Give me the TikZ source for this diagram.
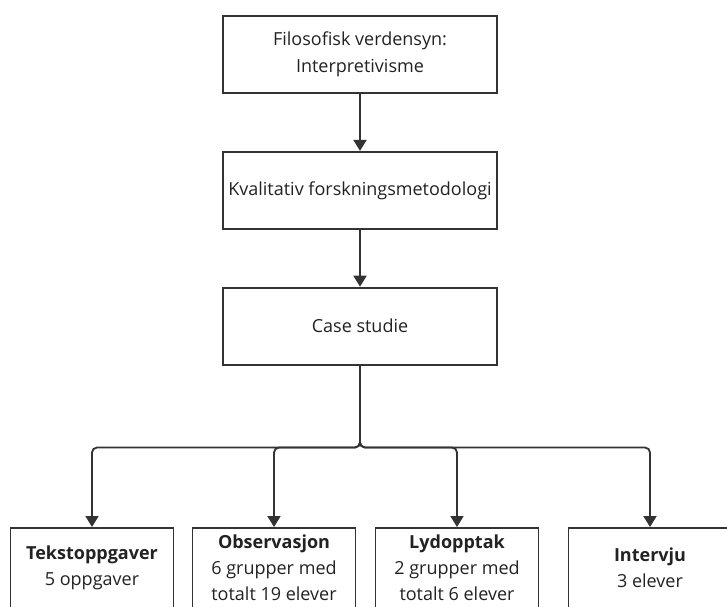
\documentclass[tikz,border=0pt]{standalone}
\usepackage{fontspec}
\setmainfont{Open Sans}
\usepackage{xcolor}
\usetikzlibrary{arrows.meta,positioning}
\definecolor{flowdark}{RGB}{51,51,51}
\definecolor{flowtext}{RGB}{34,34,34}

\begin{document}
\begin{tikzpicture}[
  x=1pt, y=1pt,
  node distance=57pt,
  stage/.style={rectangle, draw=flowdark, line width=1.8pt, fill=white,
                minimum width=274pt, minimum height=77pt, align=center,
                inner sep=2pt, text=flowtext,
                font=\fontsize{18}{27}\selectfont},
  leaf/.style={rectangle, draw=flowdark, line width=1.8pt, fill=white,
               minimum width=163pt, minimum height=80pt, align=center,
               inner sep=2pt, text=flowtext, anchor=north,
               font=\fontsize{18}{26}\selectfont},
  arr/.style={-{Triangle[length=11pt, width=13pt]}, line width=1.8pt, flowdark},
  branch/.style={arr, rounded corners=5pt}
]
\useasboundingbox (0,0) rectangle (727,-606);
\node[stage] (syn) at (360,-54.5) {Filosofisk verdensyn:\\ Interpretivisme};
\node[stage, below=of syn] (metode) {Kvalitativ forskningsmetodologi};
\node[stage, below=of metode] (case) {Case studie};
% datakilder
\node[leaf] (tekst) at (92,-527) {\textbf{Tekstoppgaver}\\ 5 oppgaver};
\node[leaf] (obs) at (274,-527) {\textbf{Observasjon}\\ 6 grupper med\\ totalt 19 elever};
\node[leaf] (lyd) at (457,-527) {\textbf{Lydopptak}\\ 2 grupper med\\ totalt 6 elever};
\node[leaf] (int) at (650,-527) {\textbf{Intervju}\\ 3 elever};
\draw[arr] (syn) -- (metode);
\draw[arr] (metode) -- (case);
\coordinate (split) at ([yshift=-82pt]case.south);
\foreach \t in {tekst,obs,lyd,int}
  \draw[branch] (case.south) -- (split) -| (\t.north);
\end{tikzpicture}
\end{document}
